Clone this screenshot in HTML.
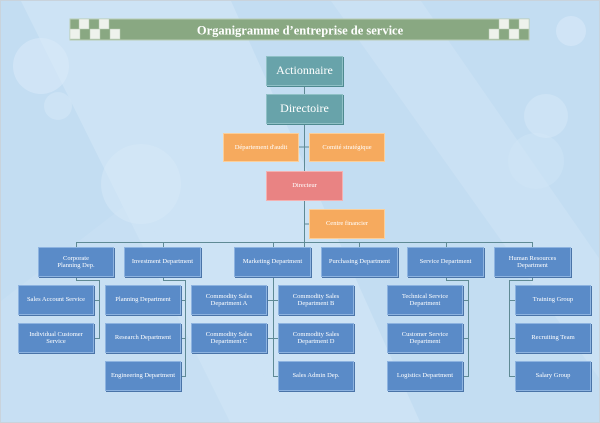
<!DOCTYPE html>
<html><head><meta charset="utf-8"><style>
body{margin:0;width:600px;height:423px;overflow:hidden;font-family:"Liberation Serif",serif}
#c{position:relative;width:598px;height:421px;border:1px solid #c9d3dc;background:#c3ddf2;overflow:hidden}
.b{position:absolute;display:flex;align-items:center;justify-content:center;text-align:center;color:#fff;box-sizing:border-box;line-height:1.1}
.u{background:#5a8bc8;border:1.5px solid #8db3e0;font-size:6.5px;box-shadow:1px 1px 0 #4a74a8}
.t{background:#68a3aa;border:1.5px solid #8fc0c6;font-size:12px;box-shadow:1px 1px 0 #4e8a90}
.o{background:#f6aa5e;border:1.5px solid #fbcf9a;font-size:6.5px}
.p{background:#e98383;border:1.5px solid #f4b1b1;font-size:6.5px}
svg{position:absolute;left:0;top:0}
</style></head><body><div id="c">
<svg width="600" height="423">
<polygon points="20,0 230,0 420,423 230,423" fill="#d4e7f7" opacity=".6"/>
<polygon points="330,0 420,0 600,260 600,380" fill="#d2e6f6" opacity=".5"/>
<polygon points="0,300 130,200 300,423 0,423" fill="#cde3f5" opacity=".4"/>
<circle cx="40" cy="65" r="28" fill="#d8eaf8" opacity=".6"/>
<circle cx="57" cy="105" r="14" fill="#d8eaf8" opacity=".5"/>
<circle cx="140" cy="183" r="40" fill="#d8eaf8" opacity=".5"/>
<circle cx="535" cy="160" r="28" fill="#d0e5f6" opacity=".5"/>
<circle cx="545" cy="115" r="22" fill="#d8eaf8" opacity=".5"/>
<circle cx="570" cy="30" r="15" fill="#d8eaf8" opacity=".6"/>
<g stroke="#5f8a95" stroke-width="1" fill="none">
<path d="M303.5 85V246M298 146H308M303 223H308"/>
<path d="M75.5 241.5H531.5M75.5 241V246M162.5 241V246M272.5 241V246M358.5 241V246M445.5 241V246M531.5 241V246"/>
<path d="M75.5 276V279.5H98.5V338M93 299.5H98.5M93 337.5H98.5"/>
<path d="M162.5 276V279.5H184.5V376M180 299.5H184.5M180 337.5H184.5M180 375.5H184.5"/>
<path d="M272.5 276V376M266 299.5H277M266 337.5H277M272 375.5H277"/>
<path d="M445.5 276V279.5H467.5V376M462 299.5H467.5M462 337.5H467.5M462 375.5H467.5"/>
<path d="M531.5 276V279.5H508.5V376M508.5 299.5H514M508.5 337.5H514M508.5 375.5H514"/>
</g>
<rect x="69" y="18" width="459" height="21" fill="#89a882" stroke="#b9ccb4"/>
<g fill="#eef2ec" stroke="#b9ccb4" stroke-width=".5">
<rect x="78" y="18" width="10" height="10"/><rect x="98" y="18" width="10" height="10"/>
<rect x="69" y="28" width="10" height="10"/><rect x="89" y="28" width="10" height="10"/><rect x="109" y="28" width="10" height="10"/>
<rect x="498" y="18" width="10" height="10"/><rect x="518" y="18" width="10" height="10"/>
<rect x="488" y="28" width="10" height="10"/><rect x="508" y="28" width="10" height="10"/>
</g>
<text x="299" y="33.5" text-anchor="middle" fill="#fff" font-family="Liberation Serif,serif" font-weight="bold" font-size="12.5">Organigramme d’entreprise de service</text>
</svg>
<div class="b t" style="left:265px;top:55px;width:77px;height:30px">Actionnaire</div>
<div class="b t" style="left:265px;top:93px;width:77px;height:30px">Directoire</div>
<div class="b o" style="left:222px;top:132px;width:76px;height:29px">Département d'audit</div>
<div class="b o" style="left:308px;top:132px;width:76px;height:29px">Comité stratégique</div>
<div class="b p" style="left:265px;top:170px;width:77px;height:30px">Directeur</div>
<div class="b o" style="left:308px;top:208px;width:76px;height:30px">Centre financier</div>
<div class="b u" style="left:37px;top:246px;width:76px;height:30px">Corporate<br>Planning Dep.</div>
<div class="b u" style="left:123px;top:246px;width:77px;height:30px">Investment Department</div>
<div class="b u" style="left:233px;top:246px;width:77px;height:30px">Marketing Department</div>
<div class="b u" style="left:320px;top:246px;width:77px;height:30px">Purchasing Department</div>
<div class="b u" style="left:406px;top:246px;width:77px;height:30px">Service Department</div>
<div class="b u" style="left:493px;top:246px;width:77px;height:30px">Human Resources<br>Department</div>
<div class="b u" style="left:17px;top:284px;width:76px;height:30px">Sales Account Service</div>
<div class="b u" style="left:17px;top:322px;width:76px;height:30px">Individual Customer<br>Service</div>
<div class="b u" style="left:104px;top:284px;width:76px;height:30px">Planning Department</div>
<div class="b u" style="left:104px;top:322px;width:76px;height:30px">Research Department</div>
<div class="b u" style="left:104px;top:360px;width:76px;height:30px">Engineering Department</div>
<div class="b u" style="left:190px;top:284px;width:76px;height:30px">Commodity Sales<br>Department A</div>
<div class="b u" style="left:190px;top:322px;width:76px;height:30px">Commodity Sales<br>Department C</div>
<div class="b u" style="left:277px;top:284px;width:76px;height:30px">Commodity Sales<br>Department B</div>
<div class="b u" style="left:277px;top:322px;width:76px;height:30px">Commodity Sales<br>Department D</div>
<div class="b u" style="left:277px;top:360px;width:76px;height:30px">Sales Admin Dep.</div>
<div class="b u" style="left:386px;top:284px;width:76px;height:30px">Technical Service<br>Department</div>
<div class="b u" style="left:386px;top:322px;width:76px;height:30px">Customer Service<br>Department</div>
<div class="b u" style="left:386px;top:360px;width:76px;height:30px">Logistics Department</div>
<div class="b u" style="left:514px;top:284px;width:76px;height:30px">Training Group</div>
<div class="b u" style="left:514px;top:322px;width:76px;height:30px">Recruiting Team</div>
<div class="b u" style="left:514px;top:360px;width:76px;height:30px">Salary Group</div>
</div></body></html>
